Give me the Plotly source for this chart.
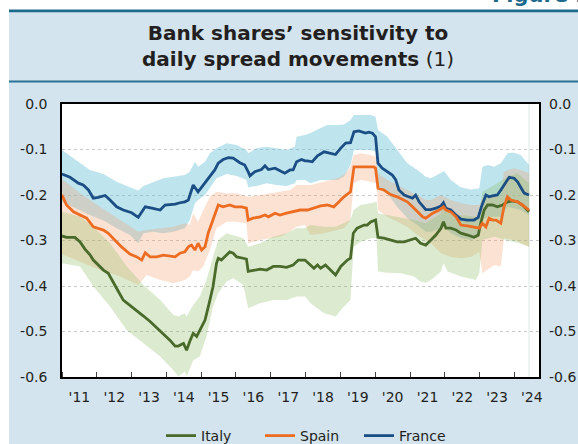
import pandas as pd
import plotly.graph_objects as go

# ---------------- data (decimal years, values) ----------------
france_t = [2011.00, 2011.23, 2011.47, 2011.61, 2011.76, 2011.90, 2012.04, 2012.24, 2012.38, 2012.57, 2012.76, 2013.00, 2013.19, 2013.39, 2013.58, 2013.82, 2013.96, 2014.25, 2014.39, 2014.53, 2014.63, 2014.77, 2014.91, 2015.06, 2015.20, 2015.39, 2015.49, 2015.63, 2015.78, 2015.92, 2016.11, 2016.25, 2016.35, 2016.40, 2016.54, 2016.73, 2016.83, 2016.93, 2017.12, 2017.26, 2017.40, 2017.55, 2017.64, 2017.74, 2017.88, 2017.98, 2018.05, 2018.19, 2018.34, 2018.53, 2018.67, 2018.86, 2019.01, 2019.15, 2019.29, 2019.39, 2019.53, 2019.72, 2019.82, 2019.92, 2020.01, 2020.08, 2020.20, 2020.35, 2020.49, 2020.59, 2020.68, 2020.83, 2020.97, 2021.07, 2021.16, 2021.26, 2021.36, 2021.45, 2021.60, 2021.74, 2021.89, 2021.96, 2022.03, 2022.17, 2022.32, 2022.46, 2022.65, 2022.84, 2022.96, 2023.05, 2023.18, 2023.27, 2023.37, 2023.51, 2023.61, 2023.75, 2023.85, 2023.99, 2024.09, 2024.18, 2024.28, 2024.42]
france_v = [-0.154, -0.161, -0.174, -0.178, -0.189, -0.207, -0.205, -0.201, -0.211, -0.226, -0.233, -0.239, -0.249, -0.226, -0.229, -0.233, -0.222, -0.220, -0.217, -0.215, -0.211, -0.178, -0.193, -0.178, -0.163, -0.145, -0.130, -0.122, -0.118, -0.119, -0.129, -0.134, -0.149, -0.158, -0.149, -0.144, -0.136, -0.144, -0.141, -0.146, -0.152, -0.145, -0.145, -0.127, -0.122, -0.125, -0.125, -0.127, -0.114, -0.105, -0.108, -0.111, -0.097, -0.086, -0.085, -0.061, -0.059, -0.064, -0.062, -0.064, -0.072, -0.130, -0.141, -0.149, -0.156, -0.167, -0.189, -0.200, -0.204, -0.207, -0.200, -0.215, -0.224, -0.232, -0.232, -0.229, -0.224, -0.217, -0.229, -0.233, -0.244, -0.253, -0.255, -0.255, -0.249, -0.226, -0.200, -0.204, -0.202, -0.200, -0.189, -0.174, -0.161, -0.163, -0.171, -0.183, -0.196, -0.200]

spain_t = [2011.00, 2011.13, 2011.33, 2011.52, 2011.71, 2011.90, 2012.04, 2012.19, 2012.33, 2012.52, 2012.71, 2012.95, 2013.15, 2013.29, 2013.39, 2013.53, 2013.72, 2013.91, 2014.06, 2014.25, 2014.39, 2014.53, 2014.63, 2014.72, 2014.82, 2014.91, 2015.01, 2015.11, 2015.20, 2015.34, 2015.49, 2015.63, 2015.82, 2015.97, 2016.16, 2016.30, 2016.35, 2016.49, 2016.69, 2016.83, 2016.93, 2017.12, 2017.26, 2017.45, 2017.64, 2017.84, 2018.05, 2018.24, 2018.43, 2018.62, 2018.81, 2018.96, 2019.10, 2019.29, 2019.39, 2019.53, 2019.77, 2019.96, 2020.01, 2020.08, 2020.25, 2020.44, 2020.63, 2020.78, 2020.92, 2021.07, 2021.21, 2021.36, 2021.45, 2021.65, 2021.84, 2021.96, 2022.03, 2022.17, 2022.32, 2022.46, 2022.65, 2022.84, 2022.99, 2023.08, 2023.18, 2023.27, 2023.37, 2023.47, 2023.61, 2023.70, 2023.80, 2023.90, 2024.09, 2024.23, 2024.42]
spain_v = [-0.200, -0.222, -0.237, -0.244, -0.251, -0.270, -0.273, -0.277, -0.284, -0.299, -0.314, -0.330, -0.336, -0.343, -0.327, -0.336, -0.336, -0.332, -0.334, -0.336, -0.328, -0.325, -0.314, -0.310, -0.321, -0.306, -0.321, -0.314, -0.284, -0.255, -0.222, -0.226, -0.222, -0.226, -0.226, -0.229, -0.255, -0.251, -0.248, -0.244, -0.248, -0.240, -0.244, -0.240, -0.237, -0.233, -0.233, -0.229, -0.224, -0.222, -0.226, -0.215, -0.204, -0.193, -0.138, -0.138, -0.138, -0.138, -0.141, -0.185, -0.189, -0.199, -0.204, -0.210, -0.215, -0.226, -0.237, -0.248, -0.251, -0.240, -0.233, -0.226, -0.233, -0.237, -0.248, -0.266, -0.268, -0.271, -0.273, -0.262, -0.270, -0.251, -0.255, -0.255, -0.262, -0.226, -0.204, -0.211, -0.215, -0.222, -0.233]

italy_t = [2011.00, 2011.13, 2011.37, 2011.52, 2011.66, 2011.80, 2011.90, 2012.04, 2012.19, 2012.33, 2012.48, 2012.62, 2012.76, 2012.95, 2013.15, 2013.34, 2013.53, 2013.67, 2013.82, 2013.96, 2014.10, 2014.25, 2014.34, 2014.49, 2014.58, 2014.67, 2014.77, 2014.87, 2014.96, 2015.11, 2015.25, 2015.34, 2015.44, 2015.49, 2015.58, 2015.68, 2015.82, 2015.92, 2016.02, 2016.21, 2016.30, 2016.35, 2016.49, 2016.69, 2016.88, 2017.07, 2017.26, 2017.45, 2017.64, 2017.79, 2017.98, 2018.14, 2018.24, 2018.34, 2018.43, 2018.57, 2018.72, 2018.86, 2019.01, 2019.20, 2019.29, 2019.37, 2019.48, 2019.68, 2019.77, 2019.87, 2020.01, 2020.08, 2020.25, 2020.44, 2020.63, 2020.83, 2021.02, 2021.16, 2021.30, 2021.45, 2021.60, 2021.74, 2021.89, 2021.96, 2022.03, 2022.17, 2022.32, 2022.46, 2022.65, 2022.84, 2022.96, 2023.03, 2023.13, 2023.23, 2023.37, 2023.51, 2023.66, 2023.80, 2023.94, 2024.09, 2024.23, 2024.42]
italy_v = [-0.290, -0.293, -0.293, -0.303, -0.319, -0.331, -0.343, -0.354, -0.365, -0.372, -0.394, -0.412, -0.431, -0.442, -0.453, -0.466, -0.478, -0.488, -0.497, -0.508, -0.519, -0.532, -0.532, -0.526, -0.541, -0.522, -0.504, -0.511, -0.497, -0.475, -0.431, -0.401, -0.350, -0.339, -0.343, -0.336, -0.325, -0.328, -0.336, -0.339, -0.341, -0.368, -0.366, -0.363, -0.365, -0.357, -0.357, -0.359, -0.354, -0.343, -0.343, -0.354, -0.361, -0.354, -0.361, -0.354, -0.365, -0.376, -0.357, -0.343, -0.339, -0.284, -0.273, -0.266, -0.266, -0.259, -0.255, -0.293, -0.295, -0.299, -0.303, -0.303, -0.299, -0.295, -0.306, -0.310, -0.299, -0.288, -0.273, -0.259, -0.273, -0.273, -0.277, -0.284, -0.288, -0.293, -0.288, -0.262, -0.233, -0.222, -0.222, -0.226, -0.222, -0.215, -0.213, -0.215, -0.222, -0.237]

france_band_t = [2011.00, 2011.33, 2011.80, 2012.19, 2012.57, 2012.95, 2013.19, 2013.34, 2013.62, 2013.91, 2014.20, 2014.53, 2014.67, 2014.82, 2014.91, 2015.11, 2015.25, 2015.44, 2015.73, 2016.02, 2016.30, 2016.35, 2016.59, 2016.88, 2017.16, 2017.45, 2017.69, 2017.74, 2017.98, 2018.14, 2018.43, 2018.62, 2018.91, 2019.10, 2019.29, 2019.39, 2019.58, 2019.87, 2020.01, 2020.08, 2020.35, 2020.63, 2020.92, 2021.21, 2021.45, 2021.60, 2021.89, 2021.98, 2022.17, 2022.46, 2022.75, 2022.99, 2023.08, 2023.23, 2023.42, 2023.61, 2023.80, 2023.99, 2024.18, 2024.42]
france_hi = [-0.101, -0.119, -0.145, -0.154, -0.171, -0.183, -0.190, -0.180, -0.171, -0.163, -0.160, -0.156, -0.149, -0.127, -0.138, -0.127, -0.108, -0.097, -0.086, -0.090, -0.101, -0.108, -0.097, -0.094, -0.097, -0.101, -0.094, -0.072, -0.068, -0.064, -0.053, -0.046, -0.046, -0.045, -0.035, -0.024, -0.024, -0.024, -0.028, -0.057, -0.072, -0.101, -0.130, -0.145, -0.160, -0.163, -0.152, -0.147, -0.167, -0.183, -0.188, -0.185, -0.138, -0.134, -0.138, -0.130, -0.108, -0.107, -0.112, -0.134]
france_lo = [-0.215, -0.226, -0.244, -0.256, -0.273, -0.288, -0.306, -0.284, -0.281, -0.284, -0.281, -0.273, -0.255, -0.218, -0.211, -0.200, -0.185, -0.163, -0.154, -0.158, -0.167, -0.183, -0.180, -0.174, -0.178, -0.180, -0.174, -0.167, -0.167, -0.174, -0.167, -0.167, -0.167, -0.160, -0.134, -0.101, -0.101, -0.101, -0.105, -0.182, -0.196, -0.226, -0.251, -0.266, -0.281, -0.281, -0.273, -0.270, -0.284, -0.295, -0.299, -0.292, -0.255, -0.248, -0.248, -0.248, -0.226, -0.229, -0.233, -0.244]

spain_band_t = [2011.00, 2011.52, 2012.09, 2012.67, 2013.19, 2013.43, 2013.82, 2014.20, 2014.53, 2014.67, 2014.77, 2014.91, 2015.06, 2015.25, 2015.44, 2015.73, 2016.02, 2016.30, 2016.35, 2016.69, 2016.97, 2017.26, 2017.55, 2017.74, 2017.98, 2018.14, 2018.53, 2018.91, 2019.10, 2019.29, 2019.38, 2019.58, 2019.87, 2020.04, 2020.08, 2020.35, 2020.63, 2020.92, 2021.21, 2021.45, 2021.60, 2021.89, 2022.17, 2022.46, 2022.75, 2022.99, 2023.08, 2023.42, 2023.61, 2023.70, 2023.99, 2024.18, 2024.42]
spain_hi = [-0.165, -0.196, -0.226, -0.255, -0.281, -0.277, -0.273, -0.270, -0.262, -0.266, -0.240, -0.259, -0.233, -0.204, -0.193, -0.196, -0.196, -0.204, -0.204, -0.200, -0.196, -0.193, -0.189, -0.178, -0.178, -0.178, -0.171, -0.163, -0.156, -0.138, -0.112, -0.108, -0.112, -0.116, -0.152, -0.167, -0.178, -0.189, -0.200, -0.211, -0.211, -0.200, -0.211, -0.218, -0.222, -0.222, -0.207, -0.204, -0.204, -0.149, -0.141, -0.145, -0.152]
spain_lo = [-0.330, -0.347, -0.365, -0.379, -0.398, -0.376, -0.387, -0.394, -0.387, -0.379, -0.365, -0.368, -0.357, -0.321, -0.273, -0.259, -0.259, -0.262, -0.306, -0.299, -0.295, -0.292, -0.281, -0.270, -0.266, -0.288, -0.284, -0.277, -0.273, -0.255, -0.174, -0.167, -0.171, -0.174, -0.233, -0.248, -0.259, -0.270, -0.288, -0.299, -0.306, -0.328, -0.336, -0.339, -0.336, -0.325, -0.372, -0.354, -0.357, -0.295, -0.299, -0.306, -0.314]

italy_band_t = [2011.00, 2011.52, 2011.90, 2012.38, 2012.86, 2013.34, 2013.82, 2014.20, 2014.34, 2014.53, 2014.58, 2014.77, 2014.96, 2015.15, 2015.34, 2015.49, 2015.73, 2015.92, 2016.21, 2016.35, 2016.69, 2017.07, 2017.45, 2017.74, 2017.98, 2018.14, 2018.53, 2018.86, 2019.10, 2019.29, 2019.38, 2019.58, 2019.87, 2020.04, 2020.08, 2020.35, 2020.73, 2021.11, 2021.30, 2021.45, 2021.60, 2021.89, 2021.96, 2022.08, 2022.46, 2022.89, 2022.99, 2023.08, 2023.42, 2023.80, 2024.09, 2024.42]
italy_hi = [-0.237, -0.248, -0.270, -0.306, -0.357, -0.398, -0.431, -0.464, -0.467, -0.460, -0.467, -0.442, -0.423, -0.387, -0.336, -0.299, -0.284, -0.288, -0.295, -0.314, -0.306, -0.292, -0.284, -0.273, -0.273, -0.266, -0.270, -0.270, -0.262, -0.255, -0.233, -0.222, -0.218, -0.215, -0.240, -0.244, -0.248, -0.255, -0.259, -0.262, -0.255, -0.240, -0.218, -0.240, -0.244, -0.248, -0.244, -0.193, -0.178, -0.160, -0.152, -0.174]
italy_lo = [-0.350, -0.357, -0.401, -0.445, -0.497, -0.526, -0.555, -0.585, -0.599, -0.588, -0.599, -0.563, -0.555, -0.511, -0.445, -0.416, -0.390, -0.383, -0.398, -0.449, -0.438, -0.431, -0.431, -0.423, -0.423, -0.438, -0.460, -0.467, -0.445, -0.431, -0.314, -0.303, -0.295, -0.295, -0.368, -0.371, -0.372, -0.379, -0.390, -0.393, -0.387, -0.368, -0.350, -0.368, -0.379, -0.387, -0.372, -0.299, -0.292, -0.300, -0.305, -0.314]

y_tickvals = [0.0, -0.1, -0.2, -0.3, -0.4, -0.5, -0.6]
y_ticktext = ["0.0", "-0.1", "-0.2", "-0.3", "-0.4", "-0.5", "-0.6"]
series_names = ["Italy", "Spain", "France"]
x_range = ["2011-01-01", "2024-09-15"]

for a, b in [(france_t, france_v), (spain_t, spain_v), (italy_t, italy_v),
             (france_band_t, france_hi), (france_band_t, france_lo),
             (spain_band_t, spain_hi), (spain_band_t, spain_lo),
             (italy_band_t, italy_hi), (italy_band_t, italy_lo)]:
    assert len(a) == len(b), (len(a), len(b))


def to_dt(y):
    yr = int(y)
    s = pd.Timestamp(yr, 1, 1)
    e = pd.Timestamp(yr + 1, 1, 1)
    return s + (e - s) * (y - yr)


def dts(lst):
    return [to_dt(v) for v in lst]


ITALY = "#4a6a2b"
SPAIN = "#ec6d22"
FRANCE = "#1b4e85"
FONT = "DejaVu Sans"
TXT = "#231f20"

fig = go.Figure()


def band(t, hi, lo, color):
    x = dts(t)
    fig.add_trace(go.Scatter(x=x + x[::-1], y=hi + lo[::-1], fill="toself",
                             fillcolor=color, line=dict(width=0), mode="lines",
                             showlegend=False, hoverinfo="skip"))


band(france_band_t, france_hi, france_lo, "rgba(110,195,215,0.45)")
band(spain_band_t, spain_hi, spain_lo, "rgba(245,160,110,0.30)")
band(italy_band_t, italy_hi, italy_lo, "rgba(140,190,100,0.30)")

fig.add_trace(go.Scatter(x=dts(italy_t), y=italy_v, mode="lines", name=series_names[0],
                         line=dict(color=ITALY, width=2.8), legendrank=1))
fig.add_trace(go.Scatter(x=dts(france_t), y=france_v, mode="lines", name=series_names[2],
                         line=dict(color=FRANCE, width=2.8), legendrank=3))
fig.add_trace(go.Scatter(x=dts(spain_t), y=spain_v, mode="lines", name=series_names[1],
                         line=dict(color=SPAIN, width=2.8), legendrank=2))
# helper trace so that the right-hand axis is drawn
fig.add_trace(go.Scatter(x=[to_dt(france_t[0])], y=[france_v[0]], yaxis="y2", mode="lines",
                         line=dict(width=0), showlegend=False, hoverinfo="skip"))

W, H = 578, 444
L, R, T, B = 62, 39, 104, 67
PW, PH = W - L - R, H - T - B


def px(xp):
    return (xp - L) / PW


def py(yp):
    return (H - B - yp) / PH


fig.update_layout(
    width=W, height=H,
    margin=dict(l=L, r=R, t=T, b=B, pad=0, autoexpand=False),
    paper_bgcolor="#d3e4ee", plot_bgcolor="white",
    font=dict(family=FONT, size=14, color=TXT),
    title=dict(text="<b>Bank shares’ sensitivity to<br>daily spread movements</b> (1)",
               x=298 / W, xref="container", xanchor="center",
               y=1 - 39.5 / H, yref="container", yanchor="middle",
               font=dict(family=FONT, size=20, color=TXT)),
    xaxis=dict(type="date", range=x_range, tick0="2011-01-01", dtick="M12",
               ticklabelmode="period", tickformat="'%y", ticks="inside", ticklen=5,
               tickcolor="#444", tickwidth=1, showgrid=False, zeroline=False,
               showline=True, mirror=True, linecolor="black", linewidth=1.5,
               ticklabelstandoff=6, automargin=False, tickfont=dict(size=14, color=TXT)),
    yaxis=dict(range=[-0.6, 0.0], tickmode="array", tickvals=y_tickvals, ticktext=y_ticktext,
               showgrid=True, gridcolor="#c8c8c8", griddash="dot", gridwidth=1,
               zeroline=False, showline=True, mirror=True, linecolor="black", linewidth=1.5,
               ticks="", ticklabelstandoff=10, automargin=False, tickfont=dict(size=14, color=TXT)),
    yaxis2=dict(range=[-0.6, 0.0], overlaying="y", side="right", tickmode="array",
                tickvals=y_tickvals, ticktext=y_ticktext, showgrid=False, zeroline=False,
                showline=False, ticks="", ticklabelstandoff=9, automargin=False,
                tickfont=dict(size=14, color=TXT)),
    legend=dict(orientation="h", xref="container", yref="container",
                x=161 / W, xanchor="left", y=1 - 436 / H, yanchor="middle",
                bgcolor="rgba(0,0,0,0)", font=dict(family=FONT, size=14, color=TXT),
                itemwidth=30, entrywidth=54, entrywidthmode="pixels", traceorder="normal"),
    shapes=[
        dict(type="rect", xref="paper", yref="paper", x0=-1, x1=2, y0=py(12), y1=2,
             fillcolor="white", line=dict(width=0)),
        dict(type="rect", xref="paper", yref="paper", x0=-1, x1=px(9), y0=-1, y1=2,
             fillcolor="white", line=dict(width=0)),
        dict(type="line", xref="paper", yref="paper", x0=px(9), x1=2, y0=py(10.8), y1=py(10.8),
             line=dict(color="#1e6a8d", width=2.7)),
        dict(type="line", xref="paper", yref="paper", x0=px(9), x1=2, y0=py(81.5), y1=py(81.5),
             line=dict(color="#2a7196", width=2)),
        dict(type="line", xref="x", yref="paper", x0=to_dt(france_t[-1]), x1=to_dt(france_t[-1]),
             y0=0, y1=1, line=dict(color="#dde6e6", width=1), layer="below"),
    ],
    annotations=[
        dict(text="<b>Figure 2.5</b>", xref="paper", yref="paper", x=px(490), y=py(9.5),
             xanchor="left", yanchor="bottom", showarrow=False,
             font=dict(family=FONT, size=21, color="#1e6a8d")),
    ],
)

fig.write_html("out.html", config={"displayModeBar": False},
               post_script="document.body.style.margin='0px';")
